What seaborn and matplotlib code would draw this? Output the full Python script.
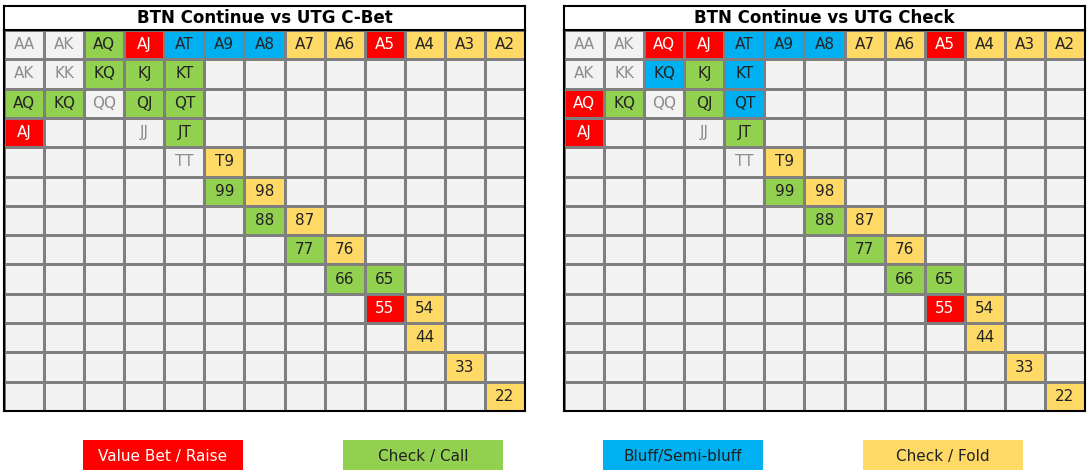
import numpy as np
import matplotlib
matplotlib.use("Agg")
import matplotlib.pyplot as plt
import seaborn as sns
from matplotlib.colors import ListedColormap

ranks = list("AKQJT98765432")
# codes: . empty, g grey-text pair/offsuit, r value, c call, b bluff, y fold
cbet_rows = [
    "ggcrbbbyyryyy",
    "ggccc........",
    "ccgcc........",
    "r..gc........",
    "....gy.......",
    ".....cy......",
    "......cy.....",
    ".......cy....",
    "........cc...",
    ".........ry..",
    "..........y..",
    "...........y.",
    "............y",
]
check_rows = [
    "ggrrbbbyyryyy",
    "ggbcb........",
    "rcgcb........",
    "r..gc........",
    "....gy.......",
    ".....cy......",
    "......cy.....",
    ".......cy....",
    "........cc...",
    ".........ry..",
    "..........y..",
    "...........y.",
    "............y",
]
titles = ["BTN Continue vs UTG C-Bet", "BTN Continue vs UTG Check"]
legend_labels = ["Value Bet / Raise", "Check / Call", "Bluff/Semi-bluff", "Check / Fold"]

code_map = {".": 0, "g": 0, "r": 1, "c": 2, "b": 3, "y": 4}
cmap = ListedColormap(["#f2f2f2", "#ff0000", "#92d050", "#00b0f0", "#ffd966"])
legend_colors = ["#ff0000", "#92d050", "#00b0f0", "#ffd966"]

def hand(i, j):
    return ranks[i] + ranks[j] if i <= j else ranks[j] + ranks[i]

W, H = 1088, 472
fig = plt.figure(figsize=(W / 100, H / 100), dpi=100)
fig.patch.set_facecolor("white")

def fr(x0, y0, x1, y1):
    return [x0 / W, 1 - y1 / H, (x1 - x0) / W, (y1 - y0) / H]

for k, (rows, title) in enumerate(zip([cbet_rows, check_rows], titles)):
    x0 = 4 + k * 560
    x1 = 525 + k * 560
    vals = np.array([[code_map[ch] for ch in r] for r in rows])
    labels = np.array([[hand(i, j) if rows[i][j] != "." else "" for j in range(13)] for i in range(13)])
    ax = fig.add_axes(fr(x0, 30, x1, 411))
    sns.heatmap(vals, ax=ax, cmap=cmap, vmin=-0.5, vmax=4.5, cbar=False,
                annot=labels, fmt="", linewidths=1, linecolor="#7f7f7f",
                annot_kws={"fontsize": 11, "color": "#222222"})
    for t, ch in zip(ax.texts, "".join(rows)):
        if ch == "g":
            t.set_color("#8c8c8c")
        elif ch == "r":
            t.set_color("white")
    ax.set_xticks([]); ax.set_yticks([])
    for s in ax.spines.values():
        s.set_visible(True); s.set_linewidth(1.5); s.set_color("black")
    tax = fig.add_axes(fr(x0, 6, x1, 30))
    tax.set_xticks([]); tax.set_yticks([])
    for s in tax.spines.values():
        s.set_linewidth(1.5)
    tax.text(0.5, 0.5, title, ha="center", va="center", fontsize=12, fontweight="bold")

for k, (lab, col) in enumerate(zip(legend_labels, legend_colors)):
    lx = 83 + k * 260
    lax = fig.add_axes(fr(lx, 440, lx + 160, 470))
    lax.set_facecolor(col)
    lax.set_xticks([]); lax.set_yticks([])
    for s in lax.spines.values():
        s.set_visible(False)
    lax.text(0.5, 0.45, lab, ha="center", va="center", fontsize=11,
             color="white" if col == "#ff0000" else "#222222")

fig.savefig("out.png", dpi=100)
